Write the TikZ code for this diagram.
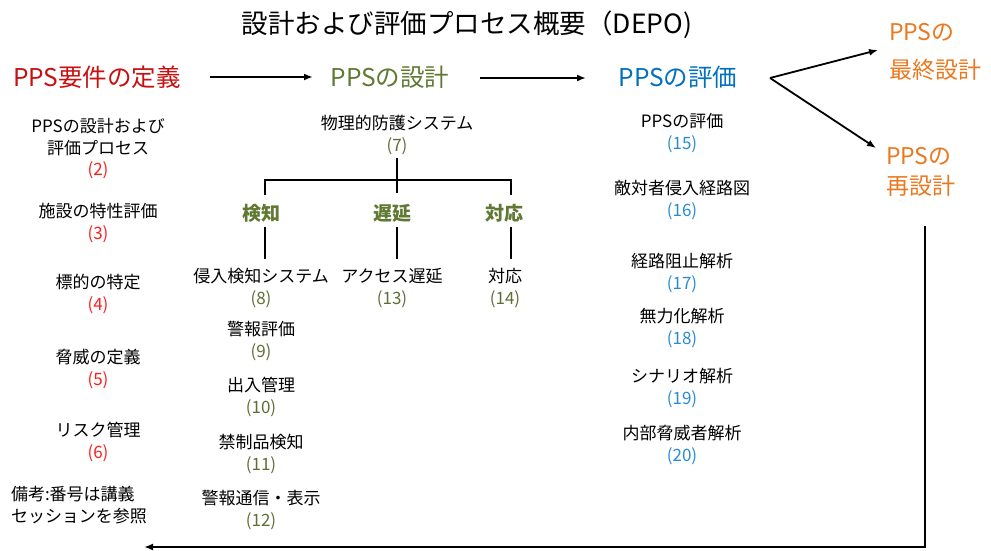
\documentclass[tikz,border=0pt]{standalone}
\usepackage{fontspec}
\usetikzlibrary{arrows.meta}
\newfontfamily\jp{Noto Sans CJK JP}
\definecolor{hred}{RGB}{200,16,16}
\definecolor{nred}{RGB}{250,30,30}
\definecolor{hgreen}{RGB}{95,120,50}
\definecolor{ngreen}{RGB}{95,110,55}
\definecolor{hblue}{RGB}{0,112,192}
\definecolor{nblue}{RGB}{40,140,210}
\definecolor{horange}{RGB}{235,120,30}
\begin{document}
\begin{tikzpicture}[x=1pt,y=-1pt,
  every node/.style={inner sep=0pt,outer sep=0pt},
  title/.style={font={\jp\fontsize{26.5}{30}\selectfont}},
  head/.style={font={\jp\fontsize{24.5}{28}\selectfont}},
  orangehead/.style={text=horange,align=left},
  item/.style={font={\jp\fontsize{17}{21.5}\selectfont},align=center},
  sub/.style={font={\jp\bfseries\fontsize{19}{22}\selectfont},text=hgreen},
  arr/.style={line width=1.8pt,-{Latex[length=9pt,width=7pt]}},
  tree/.style={line width=1.8pt}]
\path[use as bounding box] (0,0) rectangle (991,551);

\node[title] (t) at (467,25) {設計および評価プロセス概要（DEPO)};

\node[head,text=hred] (h1) at (97,77) {PPS要件の定義};
\node[head,text=hgreen] (h2) at (390,77) {PPSの設計};
\node[head,text=hblue] (h3) at (678,77) {PPSの評価};
\node[orangehead,anchor=west,font={\jp\fontsize{23}{38}\selectfont}] (h4) at (889,52) {PPSの\\最終設計};
\node[orangehead,anchor=west,font={\jp\fontsize{23}{30}\selectfont}] (h5) at (886,172) {PPSの\\再設計};

\coordinate (a1s) at (210,77);
\coordinate (a1e) at (313,77);
\coordinate (a2s) at (480,78);
\coordinate (a2e) at (586,78);
\draw[arr] (a1s) -- (a1e);
\draw[arr] (a2s) -- (a2e);
\coordinate (fork) at (770,78);
\coordinate (f1) at (878,50);
\coordinate (f2) at (876,148);
\draw[arr] (fork) -- (f1);
\draw[arr] (fork) -- (f2);

% left column
\node[item] (n2) at (98,149) {PPSの設計および\\評価プロセス\\\textcolor{nred}{(2)}};
\node[item] (n3) at (98,223) {施設の特性評価\\\textcolor{nred}{(3)}};
\node[item] (n4) at (98,294) {標的の特定\\\textcolor{nred}{(4)}};
\node[item] (n5) at (98,369) {脅威の定義\\\textcolor{nred}{(5)}};
\node[item] (n6) at (98,442) {リスク管理\\\textcolor{nred}{(6)}};
\node[item,align=left,anchor=west] (note) at (11,505) {備考:番号は講義\\セッションを参照};

% middle
\node[item] (n7) at (397,135) {物理的防護システム\\\textcolor{ngreen}{(7)}};
\node[sub] (d) at (261,213) {検知};
\node[sub] (y) at (392,213) {遅延};
\node[sub] (r) at (504,213) {対応};
\node[item] (n8) at (261,288) {侵入検知システム\\\textcolor{ngreen}{(8)}};
\node[item] (n9) at (261,341) {警報評価\\\textcolor{ngreen}{(9)}};
\node[item] (n10) at (261,397) {出入管理\\\textcolor{ngreen}{(10)}};
\node[item] (n11) at (261,454) {禁制品検知\\\textcolor{ngreen}{(11)}};
\node[item] (n12) at (261,510) {警報通信・表示\\\textcolor{ngreen}{(12)}};
\node[item] (n13) at (392,288) {アクセス遅延\\\textcolor{ngreen}{(13)}};
\node[item] (n14) at (505,288) {対応\\\textcolor{ngreen}{(14)}};

\coordinate (jL) at (265,180);
\coordinate (jR) at (511,180);
\draw[tree] (397,158) -- (397,193);
\draw[tree] (265,195) -- (jL) -- (jR) -- (511,195);
\draw[tree] (265,227) -- (265,259);
\draw[tree] (397,227) -- (397,259);
\draw[tree] (511,227) -- (511,259);

% right column
\node[item] (n15) at (682,133) {PPSの評価\\\textcolor{nblue}{(15)}};
\node[item] (n16) at (682,200) {敵対者侵入経路図\\\textcolor{nblue}{(16)}};
\node[item] (n17) at (682,273) {経路阻止解析\\\textcolor{nblue}{(17)}};
\node[item] (n18) at (682,328) {無力化解析\\\textcolor{nblue}{(18)}};
\node[item] (n19) at (682,388) {シナリオ解析\\\textcolor{nblue}{(19)}};
\node[item] (n20) at (682,445) {内部脅威者解析\\\textcolor{nblue}{(20)}};

% return loop
\coordinate (rs) at (925,226);
\coordinate (rc) at (925,547);
\coordinate (re) at (144,547);
\draw[arr] (rs) -- (rc) -- (re);
\end{tikzpicture}
\end{document}
